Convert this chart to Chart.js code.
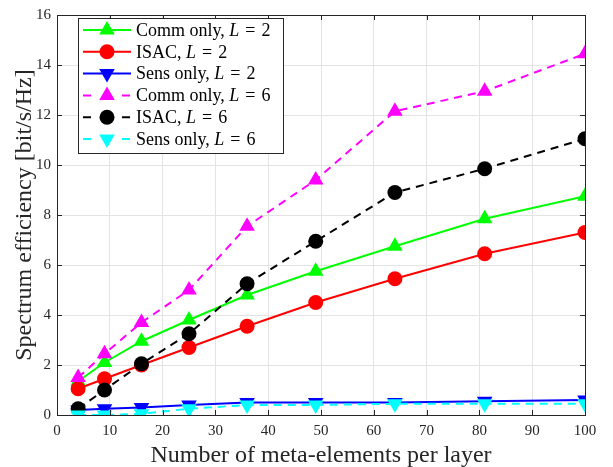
<!DOCTYPE html>
<html>
<head>
<meta charset="utf-8">
<script src="https://cdn.jsdelivr.net/npm/chart.js@4"></script>
<style>
  html, body { margin: 0; padding: 0; background: #fff; }
  #wrap { width: 613px; height: 467px; }
</style>
</head>
<body>
<div id="wrap"><canvas id="chart" width="613" height="467"></canvas></div>
<script>
// number of meta-elements per layer
const elements = [4, 9, 16, 25, 36, 49, 64, 81, 100];

const commL2 = [1.35, 2.1, 2.95, 3.8, 4.8, 5.75, 6.75, 7.85, 8.75];
const isacL2 = [1.05, 1.45, 2.0, 2.7, 3.55, 4.5, 5.45, 6.45, 7.3];
const sensL2 = [0.2, 0.25, 0.3, 0.4, 0.5, 0.5, 0.5, 0.55, 0.6];
const commL6 = [1.5, 2.45, 3.7, 5.0, 7.55, 9.4, 12.15, 12.95, 14.45];
const isacL6 = [0.25, 1.0, 2.05, 3.25, 5.25, 6.95, 8.9, 9.85, 11.05];
const sensL6 = [0.0, 0.0, 0.05, 0.25, 0.4, 0.4, 0.45, 0.45, 0.45];

const xTicks = [0, 10, 20, 30, 40, 50, 60, 70, 80, 90, 100];
const yTicks = [0, 2, 4, 6, 8, 10, 12, 14, 16];

const FONT = '"Liberation Serif", "DejaVu Serif", serif';

function pts(ys) {
  return ys.map((y, i) => ({ x: elements[i], y: y }));
}

// name, L, data, colour, marker, dashed
const seriesDefs = [
  ['Comm only, ', '2', commL2, '#00ff00', 'up', false],
  ['ISAC, ', '2', isacL2, '#ff0000', 'circle', false],
  ['Sens only, ', '2', sensL2, '#0000ff', 'down', false],
  ['Comm only, ', '6', commL6, '#ff00ff', 'up', true],
  ['ISAC, ', '6', isacL6, '#000000', 'circle', true],
  ['Sens only, ', '6', sensL6, '#00ffff', 'down', true]
];

const datasets = seriesDefs.map((s, i) => ({
  label: s[0] + 'L = ' + s[1],
  data: pts(s[2]),
  borderColor: s[3],
  backgroundColor: s[3],
  borderWidth: 2,
  borderDash: s[5] ? [8, 6] : [],
  pointStyle: s[4] === 'circle' ? 'circle' : 'triangle',
  rotation: s[4] === 'down' ? 180 : 0,
  pointRadius: s[4] === 'circle' ? 7.5 : 9,
  pointBorderWidth: 0,
  order: 6 - i
}));

// MATLAB style box + inward ticks
const boxPlugin = {
  id: 'box',
  afterDraw(chart) {
    const { ctx, chartArea: a, scales } = chart;
    ctx.save();
    ctx.strokeStyle = '#262626';
    ctx.lineWidth = 1;
    ctx.beginPath();
    xTicks.forEach(t => {
      const x = Math.round(scales.x.getPixelForValue(t)) + 0.5;
      ctx.moveTo(x, a.bottom); ctx.lineTo(x, a.bottom - 5);
      ctx.moveTo(x, a.top); ctx.lineTo(x, a.top + 5);
    });
    yTicks.forEach(t => {
      const y = Math.round(scales.y.getPixelForValue(t)) + 0.5;
      ctx.moveTo(a.left, y); ctx.lineTo(a.left + 5, y);
      ctx.moveTo(a.right, y); ctx.lineTo(a.right - 5, y);
    });
    ctx.stroke();
    ctx.strokeRect(Math.round(a.left) + 0.5, Math.round(a.top) + 0.5,
      Math.round(a.right - a.left), Math.round(a.bottom - a.top));
    ctx.restore();
  }
};

// legend with italic L
const legendPlugin = {
  id: 'mlegend',
  afterDraw(chart) {
    const { ctx } = chart;
    const bx = 78.5, by = 18.5, bw = 205, bh = 135;
    ctx.save();
    ctx.fillStyle = '#fff';
    ctx.fillRect(bx, by, bw, bh);
    ctx.strokeStyle = '#262626';
    ctx.lineWidth = 1;
    ctx.strokeRect(bx, by, bw, bh);
    seriesDefs.forEach((s, i) => {
      const y = 30 + i * 21.8;
      ctx.strokeStyle = s[3];
      ctx.fillStyle = s[3];
      ctx.lineWidth = 2;
      ctx.setLineDash(s[5] ? [8, 31] : []);
      ctx.beginPath();
      ctx.moveTo(83, y); ctx.lineTo(131, y);
      ctx.stroke();
      ctx.setLineDash([]);
      ctx.beginPath();
      if (s[4] === 'circle') {
        ctx.arc(107, y, 7.5, 0, Math.PI * 2);
      } else {
        const r = 9, dir = s[4] === 'up' ? -1 : 1;
        ctx.moveTo(107, y + dir * r);
        ctx.lineTo(107 - r * 0.866, y - dir * r * 0.5);
        ctx.lineTo(107 + r * 0.866, y - dir * r * 0.5);
        ctx.closePath();
      }
      ctx.fill();
      ctx.fillStyle = '#000';
      ctx.textBaseline = 'middle';
      ctx.font = '18px ' + FONT;
      let x = 136;
      ctx.fillText(s[0], x, y + 1);
      x += ctx.measureText(s[0]).width;
      ctx.font = 'italic 18px ' + FONT;
      ctx.fillText('L', x, y + 1);
      x += ctx.measureText('L').width + 6;
      ctx.font = '18px ' + FONT;
      ctx.fillText('=', x, y + 1);
      x += ctx.measureText('=').width + 6;
      ctx.fillText(s[1], x, y + 1);
    });
    ctx.restore();
  }
};

new Chart(document.getElementById('chart'), {
  type: 'line',
  data: { datasets: datasets },
  options: {
    responsive: false,
    animation: false,
    layout: { padding: { left: 0, top: 6, right: 28, bottom: 0 } },
    plugins: { legend: { display: false }, tooltip: { enabled: false } },
    scales: {
      x: {
        type: 'linear', min: 0, max: 100,
        afterBuildTicks: s => { s.ticks = xTicks.map(v => ({ value: v })); },
        afterFit: s => { s.height = 52; },
        grid: { color: '#e3e3e3', drawTicks: false, lineWidth: 1 },
        border: { display: false },
        ticks: { color: '#262626', font: { family: FONT, size: 15 }, padding: 7, maxRotation: 0 },
        title: { display: true, text: 'Number of meta-elements per layer', color: '#262626',
          font: { family: FONT, size: 24 }, padding: { top: 0, bottom: -3 } }
      },
      y: {
        min: 0, max: 16,
        afterBuildTicks: s => { s.ticks = yTicks.map(v => ({ value: v })); },
        afterFit: s => { s.width = 57; },
        grid: { color: '#e3e3e3', drawTicks: false, lineWidth: 1 },
        border: { display: false },
        ticks: { color: '#262626', font: { family: FONT, size: 15 }, padding: 6 },
        title: { display: true, text: 'Spectrum efficiency [bit/s/Hz]', color: '#262626',
          font: { family: FONT, size: 24 }, padding: { top: 10, bottom: 0 } }
      }
    }
  },
  plugins: [boxPlugin, legendPlugin]
});
</script>
</body>
</html>
